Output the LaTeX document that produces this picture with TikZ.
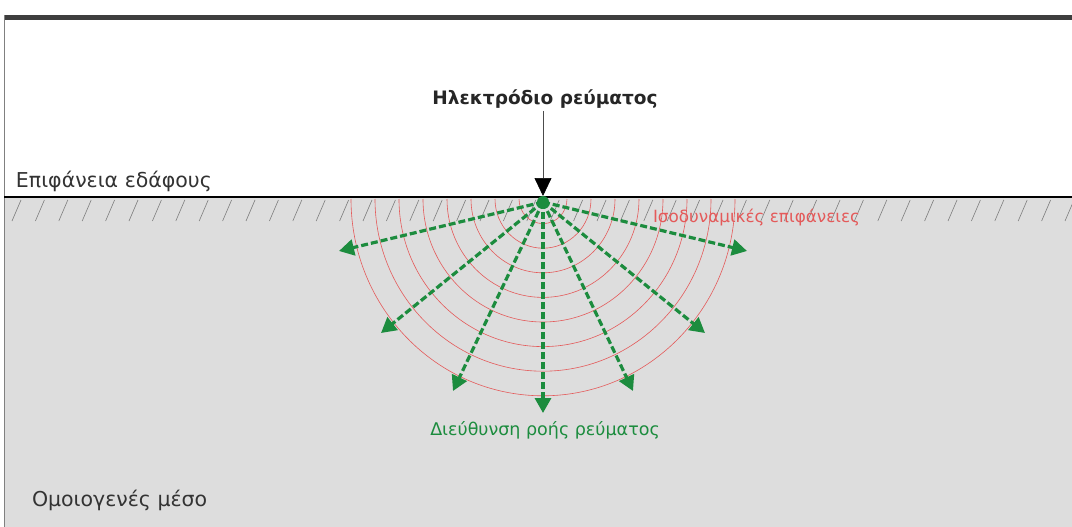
\documentclass[tikz,border=0pt]{standalone}
\usepackage{fontspec}
\setmainfont{DejaVu Sans}
\usetikzlibrary{arrows.meta}
\definecolor{soil}{RGB}{221,221,221}
\definecolor{flow}{RGB}{28,140,62}
\definecolor{equip}{RGB}{228,90,90}
\definecolor{hatchgray}{RGB}{125,125,125}
\definecolor{framegray}{RGB}{62,62,62}
\begin{document}
\begin{tikzpicture}[x=1pt,y=-1pt,
  label/.style={inner sep=0pt, outer sep=0pt},
  flowarrow/.style={flow, line width=3.2pt, dash pattern=on 7pt off 3pt,
    -{Triangle[length=15pt,width=16pt]}},
  isoline/.style={equip, line width=0.6pt},
  hatchline/.style={hatchgray, line width=0.6pt}]
\useasboundingbox (0,0) rectangle (1072,527);
\fill[white] (0,0) rectangle (1072,527);
% soil body
\fill[soil] (4,197) rectangle (1072,527);
% hatching under the ground surface
\foreach \i in {0,...,45}
  \draw[hatchline] ({12+23.4*\i},221) -- ++(9,-21);
% equipotential surfaces
\foreach \k in {1,...,8}
  \draw[isoline] ({543+24*\k},199) arc[start angle=0, end angle=180, x radius={24*\k}, y radius={24.6*\k}];
% frame
\fill[framegray] (4,15) rectangle (1072,20);
\draw[gray, line width=1.2pt] (4.6,15) -- (4.6,527);
% ground surface
\draw[black, line width=1.8pt] (4,197) -- (1072,197);
% electrode
\node[label, anchor=base, font=\bfseries\fontsize{18.5}{20}\selectfont, text=black!85] (elec) at (545,104) {Ηλεκτρόδιο ρεύματος};
\coordinate (etip) at (543,196);
\draw[black!70, line width=0.7pt, -{Triangle[length=18pt,width=17pt,black]}] (elec.south -| etip) ++(0,3) -- (etip);
\node[circle, fill=flow, minimum size=12pt, inner sep=0pt] (src) at (543,202) {};
% current flow directions
\coordinate (t1) at (339,251);
\coordinate (t2) at (381,333);
\coordinate (t3) at (453,391);
\coordinate (t4) at (543,413);
\coordinate (t5) at (633,391);
\coordinate (t6) at (705,333);
\coordinate (t7) at (747,251);
\foreach \t in {t1,t2,t3,t4,t5,t6,t7}
  \draw[flowarrow] (src.center) -- (\t);
% labels
\node[label, anchor=base west, font=\fontsize{20.5}{22}\selectfont, text=black!80] (surf) at (16,187) {Επιφάνεια εδάφους};
\node[label, anchor=base west, font=\fontsize{16.8}{18}\selectfont, text=equip] (iso) at (653,222) {Ισοδυναμικές επιφάνειες};
\node[label, anchor=base, font=\fontsize{17.5}{19}\selectfont, text=flow] (dir) at (545,435) {Διεύθυνση ροής ρεύματος};
\node[label, anchor=base west, font=\fontsize{20.5}{22}\selectfont, text=black!80] (medium) at (32,506) {Ομοιογενές μέσο};
\end{tikzpicture}
\end{document}
